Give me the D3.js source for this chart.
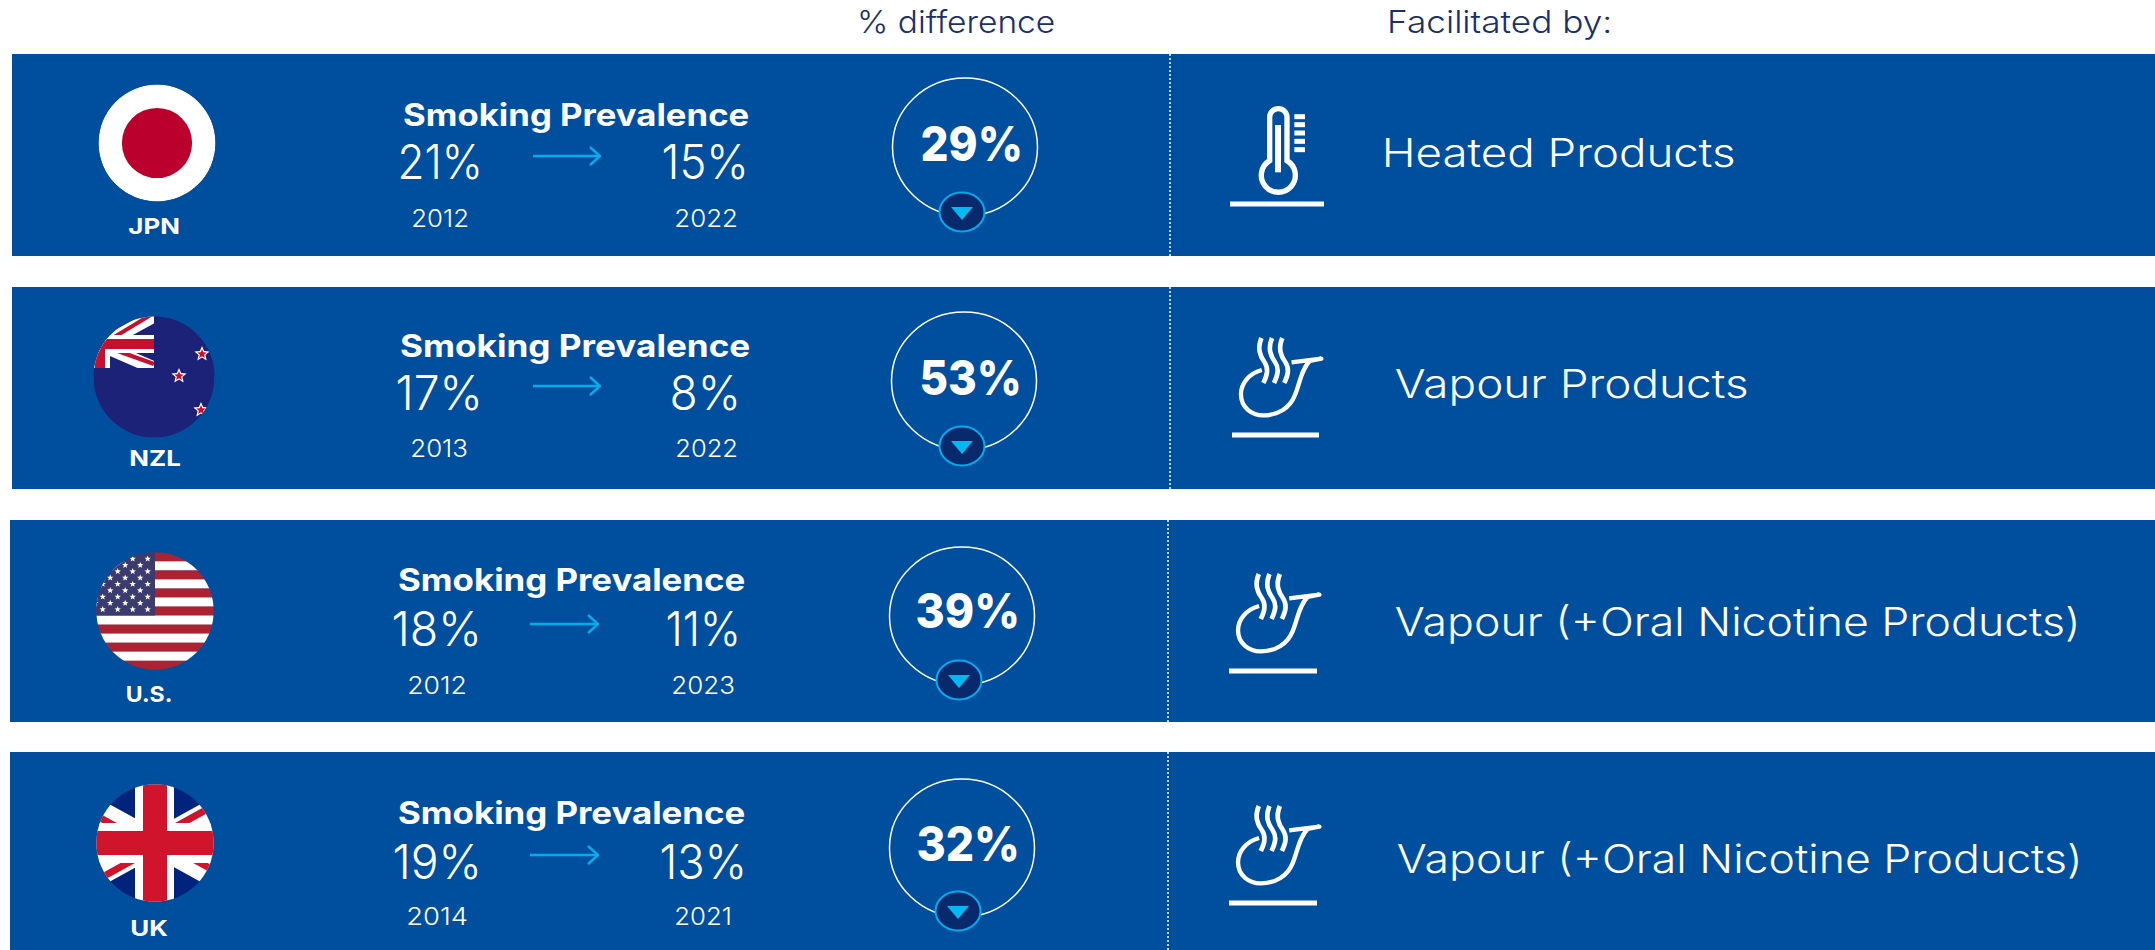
<!DOCTYPE html>
<html><head><meta charset="utf-8">
<script src="https://cdn.jsdelivr.net/npm/d3@7"></script>
<style>html,body{margin:0;padding:0;background:#fff;overflow:hidden}svg{display:block;font-family:Inter,"Noto Sans",sans-serif}</style>
</head><body><div id="chart"></div>
<script>
// ---- data ----
const countries   = ["JPN","NZL","U.S.","UK"];
const startValues = [21,17,18,19];
const endValues   = [15,8,11,13];
const startYears  = [2012,2013,2012,2014];
const endYears    = [2022,2022,2023,2021];
const differences = [29,53,39,32];
const facilitators= ["Heated Products","Vapour Products","Vapour (+Oral Nicotine Products)","Vapour (+Oral Nicotine Products)"];
const iconKinds   = ["heat","vapour","vapour","vapour"];
const headers     = ["% difference","Facilitated by:"];
const rowLabel    = "Smoking Prevalence";

// ---- layout (per row, in pixels) ----
const W=2155,H=950;
const L={
 rectTop:[54,287,520,752], rectBottom:[256,489,722,950], rectLeft:[12,12,10,10],
 divider:[1170,1170,1168,1168],
 flagX:[157,154,155,155], flagY:[143,377,611,843], flagR:[58.5,60.5,58.7,58.7],
 codeX:[154,155,149,149], codeY:[234,466,702,936], codeW:[50,50,45,36],
 titleA:[404,401,399,399], titleB:[748,749,744,744], titleY:[125.5,356.5,590.5,823.5],
 v1A:[399,397,393,394], v1B:[481,481,480,480], v2A:[663,671,667,661], v2B:[747,739,739,745], vY:[179,410,646,879],
 arrowA:[533,533,530,530], arrowB:[600,600,598,598], arrowY:[156,386,624,855],
 y1A:[412,411,408,407], y1B:[468,467,466,467], y2A:[675,676,672,675], y2B:[737,737,734,731], yY:[227,457,694,925],
 circX:[965,964,962,962], circY:[147,381,616,848],
 badgeX:[962,962,959,958], badgeY:[212,446,680,911],
 pctA:[922,921,917,918], pctB:[1021,1020,1018,1018], pctY:[161,395,628,861],
 iconA:[1230,1232,1229,1229], iconB:[1324,1319,1317,1317], iconY:[204,435,671,903],
 factA:[1385,1396,1396,1398], factB:[1734,1747,2079,2081], factY:[167,398,636,873]
};
const idx=d3.scaleOrdinal(countries,d3.range(countries.length));
const at=(k,c)=>L[k][idx(c)];

const BLUE="#004f9f",WHITE="#fff",CYAN="#00aeef",NAVY="#1c3068";
const svg=d3.select("#chart").append("svg").attr("width",W).attr("height",H).attr("viewBox",[0,0,W,H]);
const defs=svg.append("defs");
defs.append("marker").attr("id","ah").attr("viewBox","0 0 14 20").attr("refX",13).attr("refY",10)
 .attr("markerWidth",14).attr("markerHeight",20).attr("markerUnits","userSpaceOnUse").attr("orient","auto")
 .append("path").attr("d","M3,1 L13,10 L3,19").attr("fill","none").attr("stroke",CYAN).attr("stroke-width",2.4);

function fit(g,txt,a,b,y,size,weight,fill){
 const l=a-size*0.03,r=b+size*0.04;
 return g.append("text").attr("x",l).attr("y",y).attr("font-size",size).attr("font-weight",weight).attr("fill",fill||WHITE)
  .attr("textLength",r-l).attr("lengthAdjust","spacingAndGlyphs").text(txt);
}
fit(svg,headers[0],858,1054,33,31,300,NAVY);
fit(svg,headers[1],1388,1611,33,31,300,NAVY);

function star(cx,cy,R,r){
 const p=d3.range(10).map(i=>{const a=-Math.PI/2+i*Math.PI/5,q=i%2?r:R;return [cx+q*Math.cos(a),cy+q*Math.sin(a)]});
 return "M"+p.join("L")+"Z";
}
const flags={
 JPN(g,x,y,r){
  g.append("circle").attr("cx",x).attr("cy",y).attr("r",r).attr("fill",WHITE);
  g.append("circle").attr("cx",x).attr("cy",y).attr("r",r*0.6).attr("fill","#bc002d");
 },
 NZL(g,x,y,r){
  const rr=g.append("g");
  rr.append("rect").attr("x",x-r).attr("y",y-r).attr("width",2*r).attr("height",2*r).attr("fill","#1b2277");
  const cv=rr.append("g");
  const cx=x-53,cy=y-32,ex=x,t=y-59,bm=y-9,ln=(a,b,c,d,col,w)=>cv.append("line").attr("x1",a).attr("y1",b).attr("x2",c).attr("y2",d).attr("stroke",col).attr("stroke-width",w);
  ln(cx,cy,ex,bm,WHITE,13);ln(cx,cy,ex,t-2,WHITE,13);
  ln(cx,cy,ex,bm-4,"#c8102e",4);ln(cx,cy,ex,t-5,"#c8102e",4);
  cv.append("rect").attr("x",x-r).attr("y",cy-10).attr("width",ex-x+r).attr("height",18).attr("fill",WHITE);
  cv.append("rect").attr("x",cx-9).attr("y",t).attr("width",18).attr("height",bm-t).attr("fill",WHITE);
  cv.append("rect").attr("x",x-r).attr("y",cy-6).attr("width",ex-x+r).attr("height",10).attr("fill","#c8102e");
  cv.append("rect").attr("x",cx-6).attr("y",t).attr("width",10).attr("height",bm-t).attr("fill","#c8102e");
  cv.append("rect").attr("x",ex).attr("y",t-4).attr("width",r).attr("height",60).attr("fill","#1b2277");
  cv.append("rect").attr("x",x-r).attr("y",bm).attr("width",2*r).attr("height",8).attr("fill","#1b2277");
  [[48,-23],[25,-1],[47,33]].forEach(([dx,dy])=>{
   rr.append("path").attr("d",star(x+dx,y+dy,8,3.6)).attr("fill",WHITE);
   rr.append("path").attr("d",star(x+dx,y+dy,5,2.2)).attr("fill","#c8102e");
  });
 },
 "U.S."(g,x,y,r){
  const top=y-r,sh=2*r/13;
  d3.range(13).forEach(i=>g.append("rect").attr("x",x-r).attr("y",top+i*sh).attr("width",2*r).attr("height",sh+.3).attr("fill",i%2?WHITE:"#ad2233"));
  g.append("rect").attr("x",x-r).attr("y",top).attr("width",r).attr("height",7*sh).attr("fill","#3c3b6e");
  d3.range(9).forEach(i=>d3.range(5).forEach(j=>{
   const sx=x-7.3-j*15-(i%2?7.5:0),sy=top+6.5+i*6.33;
   g.append("path").attr("d",star(sx,sy,3.4,1.4)).attr("fill",WHITE);
  }));
 },
 UK(g,x,y,r){
  g.append("rect").attr("x",x-r).attr("y",y-r).attr("width",2*r).attr("height",2*r).attr("fill","#00247d");
  const dx=80,dy=44,red="#cf142b";
  [[-1,-1],[1,-1],[-1,1],[1,1]].forEach(([a,b])=>g.append("line").attr("x1",x).attr("y1",y).attr("x2",x+a*dx).attr("y2",y+b*dy).attr("stroke",WHITE).attr("stroke-width",24));
  [[-1,-1,5],[1,-1,-5],[-1,1,5],[1,1,-5]].forEach(([a,b,o])=>g.append("line").attr("x1",x).attr("y1",y+o).attr("x2",x+a*dx).attr("y2",y+b*dy+o).attr("stroke",red).attr("stroke-width",7));
  g.append("rect").attr("x",x-20).attr("y",y-r).attr("width",39).attr("height",2*r).attr("fill",WHITE);
  g.append("rect").attr("x",x-r).attr("y",y-20).attr("width",2*r).attr("height",40).attr("fill",WHITE);
  g.append("rect").attr("x",x-12).attr("y",y-r).attr("width",24).attr("height",2*r).attr("fill",red);
  g.append("rect").attr("x",x-r).attr("y",y-12).attr("width",2*r).attr("height",24).attr("fill",red);
 }
};
const icons={
 heat(g){ // drawn in 3x units, base line starts at (90,342)
  g.append("path").attr("d","M90,342H372").attr("stroke",WHITE).attr("stroke-width",15).attr("fill","none");
  g.append("path").attr("d","M209,212V82A26,26 0 0 1 261,82V212A51,51 0 1 1 209,212Z").attr("stroke",WHITE).attr("stroke-width",16).attr("fill","none");
  g.append("path").attr("d","M234,105V247").attr("stroke",WHITE).attr("stroke-width",18).attr("fill","none");
  [80,104,129,154,179].forEach(y=>g.append("path").attr("d",`M283,${y}H315`).attr("stroke",WHITE).attr("stroke-width",15).attr("fill","none"));
 },
 vapour(g){ // base line starts at (95,344)
  g.append("path").attr("d","M95,344H358").attr("stroke",WHITE).attr("stroke-width",15).attr("fill","none");
  g.append("path").attr("d","M185,149C145,160 122,190 122,222C122,262 155,285 190,285C235,285 270,262 285,225C300,190 303,150 330,122L365,115L275,126")
   .attr("stroke",WHITE).attr("stroke-width",13).attr("fill","none").attr("stroke-linejoin","round");
  g.append("path").attr("d","M328,128L365,115L330,118Z").attr("fill",WHITE);
  [[185,190],[217,222],[248,253]].forEach(([a,b])=>g.append("path").attr("d",`M${a-1},53C${a-14},85 ${a-6},105 ${a+8},125C${a+22},145 ${a+16},165 ${b},188`)
   .attr("stroke",WHITE).attr("stroke-width",14).attr("fill","none"));
 }
};

countries.forEach((c,i)=>{
 const g=svg.append("g");
 g.append("rect").attr("x",at("rectLeft",c)).attr("y",at("rectTop",c)).attr("width",W-at("rectLeft",c)).attr("height",at("rectBottom",c)-at("rectTop",c)).attr("fill",BLUE);
 g.append("line").attr("x1",at("divider",c)).attr("x2",at("divider",c)).attr("y1",at("rectTop",c)).attr("y2",at("rectBottom",c)).attr("stroke",WHITE).attr("stroke-width",1.5).attr("stroke-dasharray","2 2");

 const fx=at("flagX",c),fy=at("flagY",c),fr=at("flagR",c),id="clip"+i;
 defs.append("clipPath").attr("id",id).append("circle").attr("cx",fx).attr("cy",fy).attr("r",fr);
 flags[c](g.append("g").attr("clip-path",`url(#${id})`),fx,fy,fr);
 const cw=at("codeW",c);
 fit(g,c,at("codeX",c)-cw/2,at("codeX",c)+cw/2,at("codeY",c),22,700);

 fit(g,rowLabel,at("titleA",c),at("titleB",c),at("titleY",c),31,700);
 fit(g,startValues[i]+"%",at("v1A",c),at("v1B",c),at("vY",c),48,300);
 fit(g,endValues[i]+"%",at("v2A",c),at("v2B",c),at("vY",c),48,300);
 g.append("line").attr("x1",at("arrowA",c)).attr("x2",at("arrowB",c)).attr("y1",at("arrowY",c)).attr("y2",at("arrowY",c))
  .attr("stroke",CYAN).attr("stroke-width",2.4).attr("marker-end","url(#ah)");
 fit(g,startYears[i],at("y1A",c),at("y1B",c),at("yY",c),24,300);
 fit(g,endYears[i],at("y2A",c),at("y2B",c),at("yY",c),24,300);

 g.append("ellipse").attr("cx",at("circX",c)).attr("cy",at("circY",c)).attr("rx",72.5).attr("ry",69).attr("fill","none").attr("stroke",WHITE).attr("stroke-width",1.5);
 const bx=at("badgeX",c),by=at("badgeY",c);
 g.append("ellipse").attr("cx",bx).attr("cy",by).attr("rx",22.5).attr("ry",19.5).attr("fill","#08296b").attr("stroke",CYAN).attr("stroke-width",2);
 g.append("path").attr("d",d3.line()([[bx-11,by-5],[bx+11,by-5],[bx,by+8]])+"Z").attr("fill","#00b9f2");
 fit(g,differences[i]+"%",at("pctA",c),at("pctB",c),at("pctY",c),48,800);

 const kind=iconKinds[i],base=kind==="heat"?[90,342,282]:[95,344,263];
 const sc=(at("iconB",c)-at("iconA",c))/base[2];
 icons[kind](g.append("g").attr("transform",`translate(${at("iconA",c)-base[0]*sc},${at("iconY",c)-base[1]/3}) scale(${sc},${1/3})`));
 fit(g,facilitators[i],at("factA",c)-(i===0?2:0),at("factB",c),at("factY",c),39,300);
});
</script></body></html>
